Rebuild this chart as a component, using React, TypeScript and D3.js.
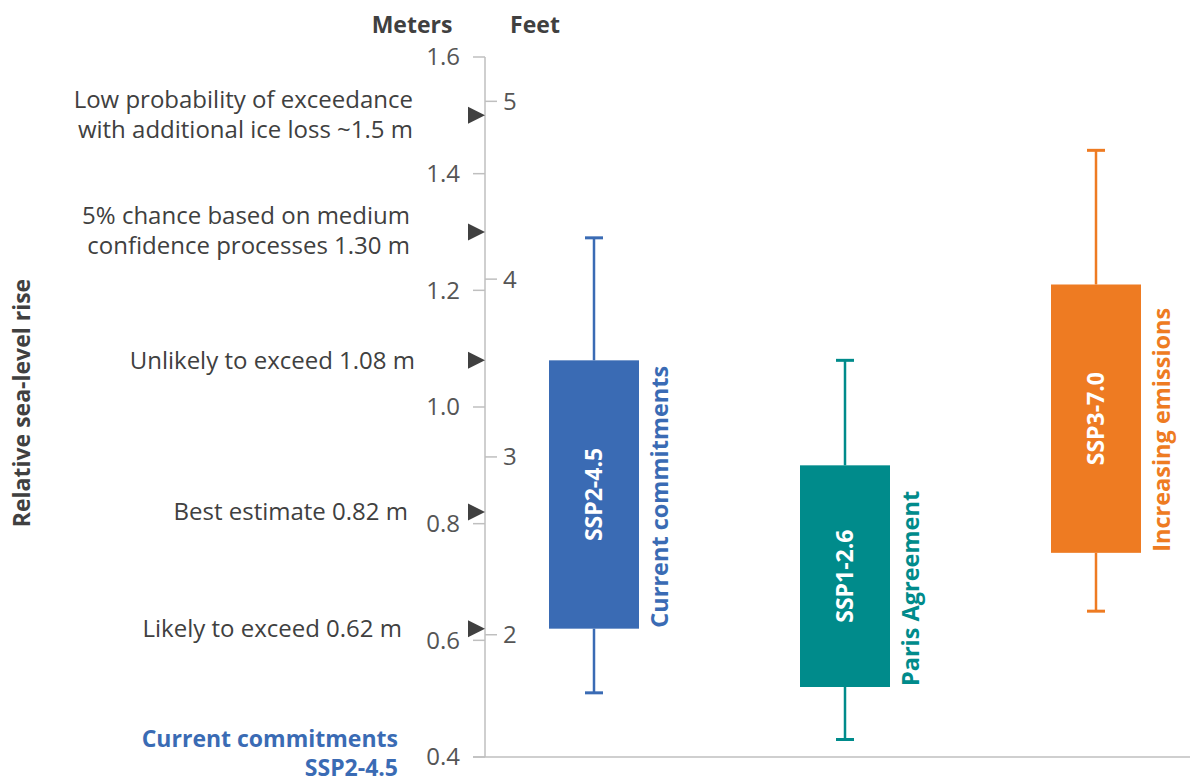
import React from "react";
import * as d3 from "d3";

const scenarios = ["SSP2-4.5", "SSP1-2.6", "SSP3-7.0"];
const scenarioNames = ["Current commitments", "Paris Agreement", "Increasing emissions"];
const whiskerLow = [0.51, 0.43, 0.65];
const boxLow = [0.62, 0.52, 0.75];
const boxHigh = [1.08, 0.9, 1.21];
const whiskerHigh = [1.29, 1.08, 1.44];
const scenarioColors = ["#3A6BB4", "#008B8B", "#EE7B22"];

const meterTicks = [0.4, 0.6, 0.8, 1.0, 1.2, 1.4, 1.6];
const feetTicks = [2, 3, 4, 5];

const markerValues = [1.5, 1.3, 1.08, 0.82, 0.62];
const markerLabels = [
  ["Low probability of exceedance", "with additional ice loss ~1.5 m"],
  ["5% chance based on medium", "confidence processes 1.30 m"],
  ["Unlikely to exceed 1.08 m"],
  ["Best estimate 0.82 m"],
  ["Likely to exceed 0.62 m"],
];
const footnoteLines = ["Current commitments", "SSP2-4.5"];

const FONT = "'Open Sans', sans-serif";
const labelRight = [413, 410, 415, 408, 402];

export default function App() {
  const W = 1195, H = 782;
  const axisX = 485;
  const y = d3.scaleLinear().domain([0.4, 1.6]).range([757, 57]);
  const yFeet = d3.scaleLinear().domain([0.4 / 0.3048, 1.6 / 0.3048]).range([757, 57]);
  const x = d3.scalePoint<string>().domain(scenarios).range([594, 1096]);
  const boxW = 90;
  const capW = 18;

  return (
    <svg width={W} height={H} style={{ position: "absolute", left: 0, top: 0, background: "#fff" }} fontFamily={FONT}>
      {/* headers */}
      <text x={412} y={25} dy="0.35em" textAnchor="middle" fontSize={23} fontWeight={700} fill="#404040">Meters</text>
      <text x={535} y={25} dy="0.35em" textAnchor="middle" fontSize={23} fontWeight={700} fill="#404040">Feet</text>
      {/* y title */}
      <text transform={`translate(22,${403}) rotate(-90)`} textAnchor="middle" dy="0.35em" fontSize={23} fontWeight={700} fill="#404040">Relative sea-level rise</text>

      {/* axes */}
      <line x1={axisX} x2={axisX} y1={y(1.6)} y2={y(0.4)} stroke="#BFBFBF" strokeWidth={1.5} />
      <line x1={473} x2={1190} y1={y(0.4)} y2={y(0.4)} stroke="#BFBFBF" strokeWidth={1.5} />
      {meterTicks.map((t) => (
        <g key={"m" + t}>
          <line x1={473} x2={axisX} y1={y(t)} y2={y(t)} stroke="#BFBFBF" strokeWidth={1.5} />
          <text x={460} y={y(t)} dy="0.35em" textAnchor="end" fontSize={24} fill="#555">{d3.format(".1f")(t)}</text>
        </g>
      ))}
      {feetTicks.map((t) => (
        <g key={"f" + t}>
          <line x1={axisX} x2={497} y1={yFeet(t)} y2={yFeet(t)} stroke="#BFBFBF" strokeWidth={1.5} />
          <text x={503} y={yFeet(t)} dy="0.35em" textAnchor="start" fontSize={24} fill="#555">{t}</text>
        </g>
      ))}

      {/* markers */}
      {markerValues.map((v, i) => {
        const yy = y(v);
        const lines = markerLabels[i];
        const offsets = lines.length === 2 ? [-16, 14] : [0];
        return (
          <g key={"mk" + i}>
            <path d={`M${axisX - 17},${yy - 8.5}L${axisX},${yy}L${axisX - 17},${yy + 8.5}Z`} fill="#404040" />
            {lines.map((l, j) => (
              <text key={j} x={labelRight[i]} y={yy + offsets[j]} dy="0.35em" textAnchor="end" fontSize={24} fill="#404040">{l}</text>
            ))}
          </g>
        );
      })}

      {/* boxes */}
      {scenarios.map((s, i) => {
        const cx = x(s)!;
        const c = scenarioColors[i];
        const top = y(boxHigh[i]);
        const bot = y(boxLow[i]);
        return (
          <g key={s}>
            <line x1={cx} x2={cx} y1={y(whiskerHigh[i])} y2={top} stroke={c} strokeWidth={2.5} />
            <line x1={cx} x2={cx} y1={bot} y2={y(whiskerLow[i])} stroke={c} strokeWidth={2.5} />
            <line x1={cx - capW / 2} x2={cx + capW / 2} y1={y(whiskerHigh[i])} y2={y(whiskerHigh[i])} stroke={c} strokeWidth={3} />
            <line x1={cx - capW / 2} x2={cx + capW / 2} y1={y(whiskerLow[i])} y2={y(whiskerLow[i])} stroke={c} strokeWidth={3} />
            <rect x={cx - boxW / 2} y={top} width={boxW} height={bot - top} fill={c} />
            <text transform={`translate(${cx},${(top + bot) / 2}) rotate(-90)`} textAnchor="middle" dy="0.35em" fontSize={23} fontWeight={700} fill="#fff">{s}</text>
            <text transform={`translate(${cx + boxW / 2 + 21},${bot - 1}) rotate(-90)`} textAnchor="start" dy="0.35em" fontSize={23.5} fontWeight={700} fill={c}>{scenarioNames[i]}</text>
          </g>
        );
      })}

      {/* footnote */}
      {footnoteLines.map((l, j) => (
        <text key={l} x={398} y={739 + j * 29} dy="0.35em" textAnchor="end" fontSize={23} fontWeight={700} fill={scenarioColors[0]}>{l}</text>
      ))}
    </svg>
  );
}
